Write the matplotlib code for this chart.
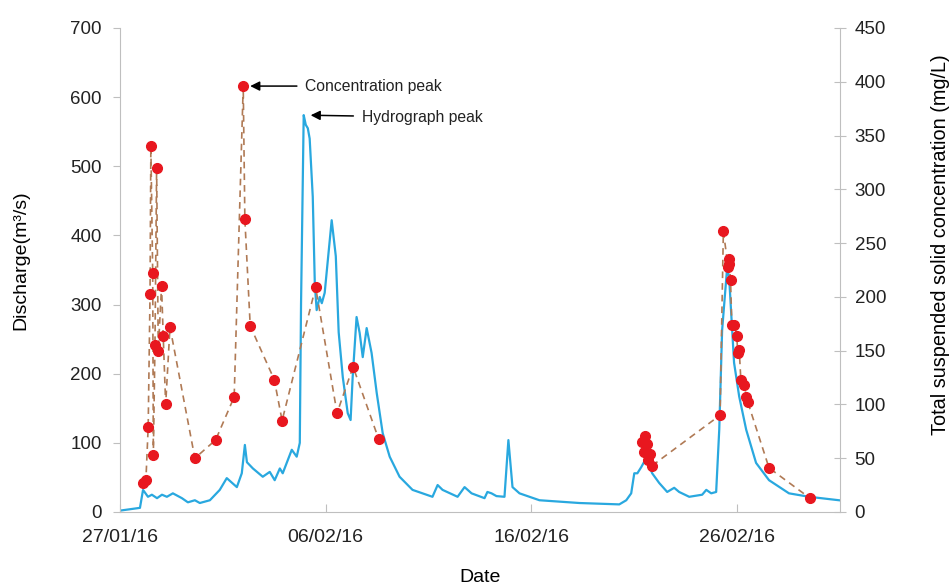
import numpy as np
import pandas as pd
import matplotlib
matplotlib.use("Agg")
import matplotlib.pyplot as plt
import matplotlib.dates as mdates

plt.rcParams['font.family'] = ['Liberation Sans', 'DejaVu Sans']

START = pd.Timestamp("2016-01-27")

# discharge (m3/s), time in days after 27/01/16 00:00
q_days = [0.00, 0.97, 1.12, 1.36, 1.55, 1.80, 2.04, 2.28, 2.57, 3.01, 3.30, 3.64,
          3.88, 4.37, 4.85, 5.19, 5.68, 5.92, 6.07, 6.17, 6.46, 6.94, 7.28, 7.52,
          7.77, 7.91, 8.35, 8.59, 8.74, 8.80, 8.93, 9.03, 9.13, 9.22, 9.37, 9.47,
          9.56, 9.71, 9.81, 9.95, 10.29, 10.49, 10.63, 10.83, 11.07, 11.21, 11.31,
          11.50, 11.65, 11.80, 11.99, 12.23, 12.48, 12.77, 13.11, 13.59, 14.22,
          15.19, 15.44, 15.68, 16.41, 16.75, 17.09, 17.72, 17.86, 18.06, 18.30,
          18.69, 18.88, 19.08, 19.42, 20.39, 22.33, 24.27, 24.61, 24.85, 25.00,
          25.15, 25.34, 25.58, 25.87, 26.21, 26.60, 26.94, 27.18, 27.67, 28.30,
          28.50, 28.74, 28.98, 29.13, 29.27, 29.51, 29.61, 29.71, 29.85, 30.10,
          30.44, 30.92, 31.55, 32.52, 33.50, 34.95]
discharge = [2, 6, 32, 22, 25, 20, 25, 22, 27, 20, 14, 17,
             13, 17, 32, 49, 36, 56, 97, 72, 63, 51, 58, 46,
             63, 56, 90, 80, 100, 300, 574, 560, 555, 540, 456, 330,
             292, 311, 302, 317, 422, 370, 260, 195, 143, 133, 195,
             282, 259, 224, 266, 230, 172, 114, 80, 51, 32,
             22, 39, 32, 22, 36, 27, 20, 29, 27, 23,
             22, 104, 36, 27, 17, 13, 11, 17, 27, 56,
             56, 65, 78, 56, 42, 29, 35, 29, 22, 25,
             32, 27, 29, 119, 263, 352, 340, 288, 216, 167,
             119, 71, 46, 27, 22, 17]

# total suspended solid concentration (mg/L)
c_days = [1.13, 1.26, 1.37, 1.46, 1.50, 1.59, 1.62, 1.70, 1.78, 1.86, 2.02, 2.10,
          2.22, 2.43, 3.64, 4.65, 5.55, 5.99, 6.07, 6.33, 7.50, 7.88, 9.51, 10.55,
          11.33, 12.57, 25.37, 25.49, 25.53, 25.60, 25.68, 25.76, 25.86, 29.17,
          29.33, 29.56, 29.58, 29.61, 29.68, 29.74, 29.87, 29.98, 30.03, 30.10,
          30.18, 30.34, 30.45, 30.52, 31.55, 33.53]
tss = [27, 30, 79, 203, 340, 222, 53, 155, 320, 150, 210, 164,
       100, 172, 50, 67, 107, 396, 272, 173, 123, 85, 209, 92,
       135, 68, 65, 56, 71, 63, 48, 54, 43, 90,
       261, 228, 235, 231, 216, 174, 174, 164, 148, 151,
       123, 118, 107, 102, 41, 13]

tick_dates = ["2016-01-27", "2016-02-06", "2016-02-16", "2016-02-26"]

q_t = START + pd.to_timedelta(q_days, unit="D")
c_t = START + pd.to_timedelta(c_days, unit="D")

# the dashed line is not drawn across the long sampling gap
c = pd.Series(tss, index=c_t)
gap = np.diff(c_days) > 5
line_t, line_v = [], []
for i, (t, v) in enumerate(c.items()):
    line_t.append(t)
    line_v.append(v)
    if i < len(gap) and gap[i]:
        line_t.append(t + pd.Timedelta(hours=1))
        line_v.append(np.nan)

fig = plt.figure(figsize=(9.52, 5.86), dpi=100)
ax = fig.add_axes([120 / 952, 74 / 586, 720 / 952, 484 / 586])
ax2 = ax.twinx()

ax.plot(q_t, discharge, color="#29A8DF", lw=1.6)
ax2.plot(line_t, line_v, color="#B07A55", lw=1.2, ls=(0, (4, 3)))
ax2.plot(c.index, c.values, ls="none", marker="o", ms=7,
         mfc="#E8171F", mec="#E8171F")

grey = "#BFBFBF"
ax.set_xlim(START, START + pd.Timedelta(days=35))
ax.set_ylim(0, 700)
ax2.set_ylim(0, 450)
ax.set_yticks(range(0, 701, 100))
ax2.set_yticks(range(0, 451, 50))
ax.set_xticks(pd.to_datetime(tick_dates))
ax.xaxis.set_major_formatter(mdates.DateFormatter("%d/%m/%y"))

for a in (ax, ax2):
    a.spines["top"].set_visible(False)
    for s in ("left", "right", "bottom"):
        a.spines[s].set_color(grey)
ax.spines["right"].set_visible(False)
ax2.spines["left"].set_visible(False)
ax2.spines["bottom"].set_visible(False)

ax.tick_params(axis="y", direction="out", length=5, color=grey, labelsize=13.5,
               labelcolor="#222222", pad=8)
ax.tick_params(axis="x", direction="in", length=6, color=grey, labelsize=14,
               labelcolor="#222222", pad=12)
ax2.tick_params(axis="y", direction="inout", length=9, color=grey, labelsize=13.5,
                labelcolor="#222222", pad=6)

ax.set_xlabel("Date", fontsize=14)
ax.set_ylabel("Discharge(m³/s)", fontsize=14)
ax2.set_ylabel("Total suspended solid concentration (mg/L)", fontsize=14.3)
ax.xaxis.set_label_coords(0.5, -0.136)
ax.yaxis.set_label_coords(-0.137, 0.52)
ax2.yaxis.set_label_coords(1.14, 0.552)
for lab in (ax.xaxis.label, ax.yaxis.label, ax2.yaxis.label):
    lab.set_va("center")

arrow = dict(arrowstyle="-|>", color="black", lw=1.1, mutation_scale=14,
             shrinkA=4, shrinkB=5)
ax2.annotate("Concentration peak", xy=(c_t[17], tss[17]), xytext=(62, 0),
             textcoords="offset pixels", ha="left", va="center", fontsize=11.3,
             color="#222222", arrowprops=arrow)
ax.annotate("Hydrograph peak", xy=(q_t[30], discharge[30]), xytext=(58, -2),
            textcoords="offset pixels", ha="left", va="center", fontsize=11.3,
            color="#222222", arrowprops=arrow)

fig.savefig("out.png", dpi=100)
